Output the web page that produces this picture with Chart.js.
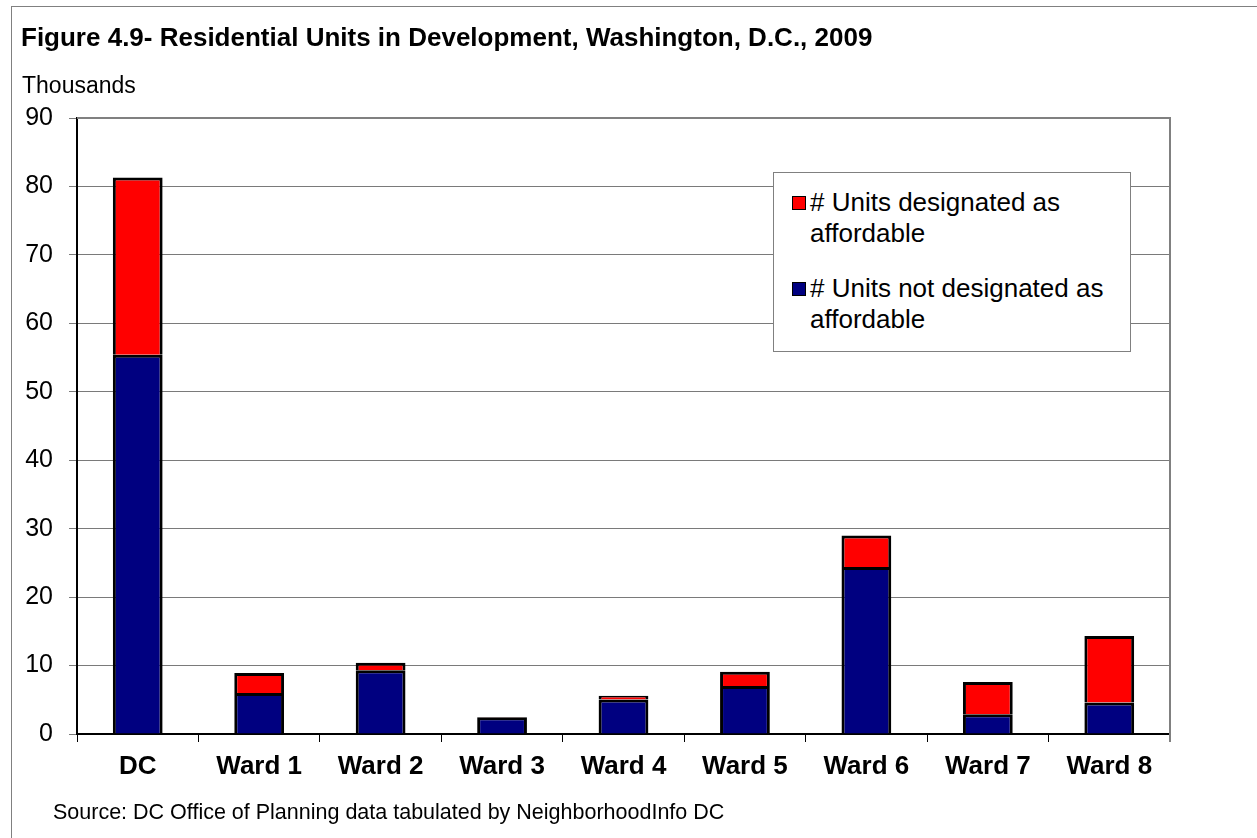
<!DOCTYPE html>
<html>
<head>
<meta charset="utf-8">
<script src="https://cdn.jsdelivr.net/npm/chart.js@4"></script>
<style>
  body { margin: 0; background: #fff; font-family: "Liberation Sans", Arial, sans-serif; }
  #wrap { position: relative; width: 1257px; height: 838px; overflow: hidden; }
  #frame { position: absolute; left: 11px; top: 6px; width: 1300px; height: 900px; border: 1px solid #808080; }
  canvas { position: absolute; left: 0; top: 0; }
  .txt { position: absolute; white-space: nowrap; color: #000; }
  #title { left: 21px; top: 22px; font-size: 26px; font-weight: bold; }
  #unit { left: 22px; top: 72px; font-size: 23px; }
  #source { left: 53px; top: 800px; font-size: 21.5px; }
  #legend { position: absolute; left: 773px; top: 172px; width: 356px; height: 178px; border: 1px solid #808080; background: #fff; }
  .item { position: absolute; left: 36px; font-size: 26px; line-height: 31px; }
  .sw { position: absolute; left: -18px; top: 9px; width: 12px; height: 12px; border: 1px solid #000; }
</style>
</head>
<body>
<div id="wrap">
  <div id="frame"></div>
  <canvas id="chart" width="1257" height="838"></canvas>
  <div class="txt" id="title">Figure 4.9- Residential Units in Development, Washington, D.C., 2009</div>
  <div class="txt" id="unit">Thousands</div>
  <div class="txt" id="source">Source: DC Office of Planning data tabulated by NeighborhoodInfo DC</div>
  <div id="legend"></div>
</div>
<script>
// data (thousands of units)
const categories = ["DC", "Ward 1", "Ward 2", "Ward 3", "Ward 4", "Ward 5", "Ward 6", "Ward 7", "Ward 8"];
const notAffordable = [55.4, 6.0, 9.3, 2.45, 5.05, 7.0, 24.4, 2.9, 4.6];
const affordable = [25.9, 2.9, 1.1, 0.05, 0.55, 2.1, 4.6, 4.7, 9.7];
const yTicks = [0, 10, 20, 30, 40, 50, 60, 70, 80, 90];
const seriesNames = [["# Units designated as", "affordable"], ["# Units not designated as", "affordable"]];

// legend box (red first, like the original)
let legendColors = ["#FF0000", "#000080"];
let legendTops = [14, 100];
let legendHtml = "";
for (let i = 0; i < seriesNames.length; i++) {
    legendHtml += `<div class="item" style="top:${legendTops[i]}px">
        <span class="sw" style="background:${legendColors[i]}"></span>${seriesNames[i].join("<br>")}</div>`;
}
document.getElementById("legend").innerHTML = legendHtml;

const plotFrame = {
    id: "plotFrame",
    afterDatasetsDraw(chart) {
        const a = chart.chartArea;
        const ctx = chart.ctx;
        ctx.save();
        ctx.strokeStyle = "#808080";
        ctx.lineWidth = 2;
        ctx.beginPath();
        ctx.moveTo(a.left, a.top);
        ctx.lineTo(a.right, a.top);
        ctx.lineTo(a.right, a.bottom + 8);
        ctx.stroke();
        ctx.restore();
    }
};

new Chart(document.getElementById("chart"), {
    type: "bar",
    data: {
        labels: categories,
        datasets: [
            {
                label: seriesNames[1].join(" "),
                data: notAffordable,
                backgroundColor: "#000080",
                borderColor: "#000",
                borderWidth: 3,
                barPercentage: 0.41,
                categoryPercentage: 1
            },
            {
                label: seriesNames[0].join(" "),
                data: affordable,
                backgroundColor: "#FF0000",
                borderColor: "#000",
                borderWidth: 3,
                barPercentage: 0.41,
                categoryPercentage: 1
            }
        ]
    },
    options: {
        responsive: false,
        animation: false,
        layout: { padding: { left: 0, top: 118, right: 87, bottom: 0 } },
        plugins: {
            legend: { display: false },
            tooltip: { enabled: false }
        },
        scales: {
            x: {
                stacked: true,
                afterFit(s) { s.height = 104; },
                grid: { offset: true, drawOnChartArea: false, drawTicks: true, tickLength: 8, color: "#000" },
                border: { color: "#000", width: 2 },
                ticks: {
                    padding: 9,
                    color: "#000",
                    font: { family: "'Liberation Sans', Arial, sans-serif", size: 26, weight: "bold" }
                }
            },
            y: {
                stacked: true,
                min: yTicks[0],
                max: yTicks[yTicks.length - 1],
                afterFit(s) { s.width = 77; },
                afterBuildTicks(s) { s.ticks = yTicks.map(v => ({ value: v })); },
                grid: { color: "#7a7a7a", lineWidth: 1, tickLength: 8 },
                border: { color: "#000", width: 2 },
                ticks: {
                    padding: 16,
                    color: "#000",
                    font: { family: "'Liberation Sans', Arial, sans-serif", size: 25 }
                }
            }
        }
    },
    plugins: [plotFrame]
});
</script>
</body>
</html>
